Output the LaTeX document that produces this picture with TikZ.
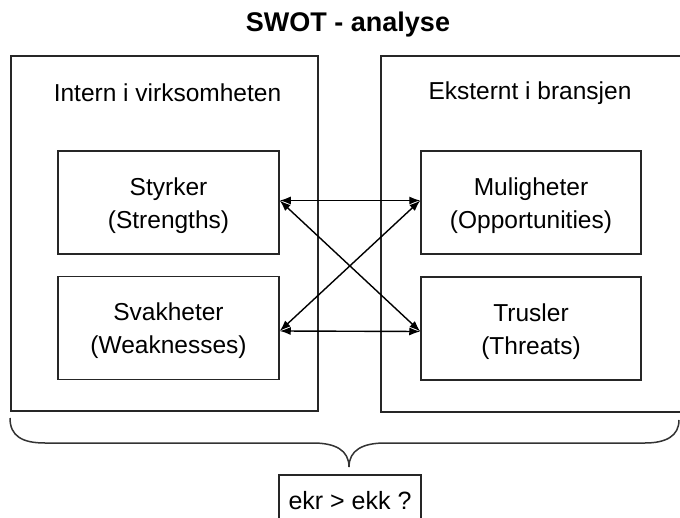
\documentclass[tikz,border=0pt]{standalone}
\usepackage{fontspec}
\setmainfont{Liberation Sans}
\usetikzlibrary{arrows.meta}
\begin{document}
\begin{tikzpicture}[x=1pt,y=-1pt,
  box/.style={draw=black!85,line width=1.5pt,inner sep=0pt},
  txt/.style={font=\fontsize{24.5}{33}\selectfont,align=center,inner sep=0pt},
  inner/.style={box,minimum width=221pt,minimum height=103pt},
  intext/.style={txt,yshift=-3pt},
  link/.style={line width=1.4pt,{Latex[length=11pt,width=8pt]}-{Latex[length=11pt,width=8pt]}}
]
\clip (0,0) rectangle (680,518);
\fill[white] (0,0) rectangle (680,518);
% title
\node[font=\fontsize{27}{32}\selectfont\bfseries,inner sep=0pt] (title) at (348,25) {SWOT - analyse};
% outer boxes
\node[box,minimum width=307pt,minimum height=355pt] (left) at (164.5,233.5) {};
\node[box,minimum width=309pt,minimum height=356pt] (right) at (535.5,234) {};
\node[txt] (lhead) at (167.5,93) {Intern i virksomheten};
\node[txt] (rhead) at (530,93) {Eksternt i bransjen};
% inner boxes
\node[inner] (S) at (168.5,202.5) {};
\node[inner] (W) at (168.5,328) {};
\node[inner,minimum width=220pt] (O) at (531,202.5) {};
\node[inner,minimum width=220pt] (T) at (531,328.5) {};
\node[intext] (St) at (S.center) {Styrker\\(Strengths)};
\node[intext] (Wt) at (W.center) {Svakheter\\(Weaknesses)};
\node[intext] (Ot) at (O.center) {Muligheter\\(Opportunities)};
\node[intext] (Tt) at (T.center) {Trusler\\(Threats)};
% arrows
\draw[link] ([yshift=2pt]S.east) -- ([yshift=2pt]O.west);
\draw[link] ([yshift=-3pt]W.east) -- ([yshift=-3pt]T.west);
\draw[link] ([yshift=2pt]S.east) -- ([yshift=-3pt]T.west);
\draw[link] ([yshift=-3pt]W.east) -- ([yshift=2pt]O.west);
% brace
\coordinate (bl) at (10,418);
\coordinate (tip) at (349,467);
\coordinate (br) at (679,420);
\draw[line width=1.5pt,black!80] (bl) .. controls (10,436) and (22,443) .. (45,443) -- (313,443)
  .. controls (335,443) and (349,450) .. (tip)
  .. controls (349,450) and (363,443) .. (385,443) -- (645,443)
  .. controls (666,443) and (679,436) .. (br);
% result box
\node[box,minimum width=142pt,minimum height=80pt,anchor=north] (res) at (350,474) {};
\node[txt,font=\fontsize{25}{30}\selectfont] (restext) at (350,501) {ekr > ekk ?};
\end{tikzpicture}
\end{document}
